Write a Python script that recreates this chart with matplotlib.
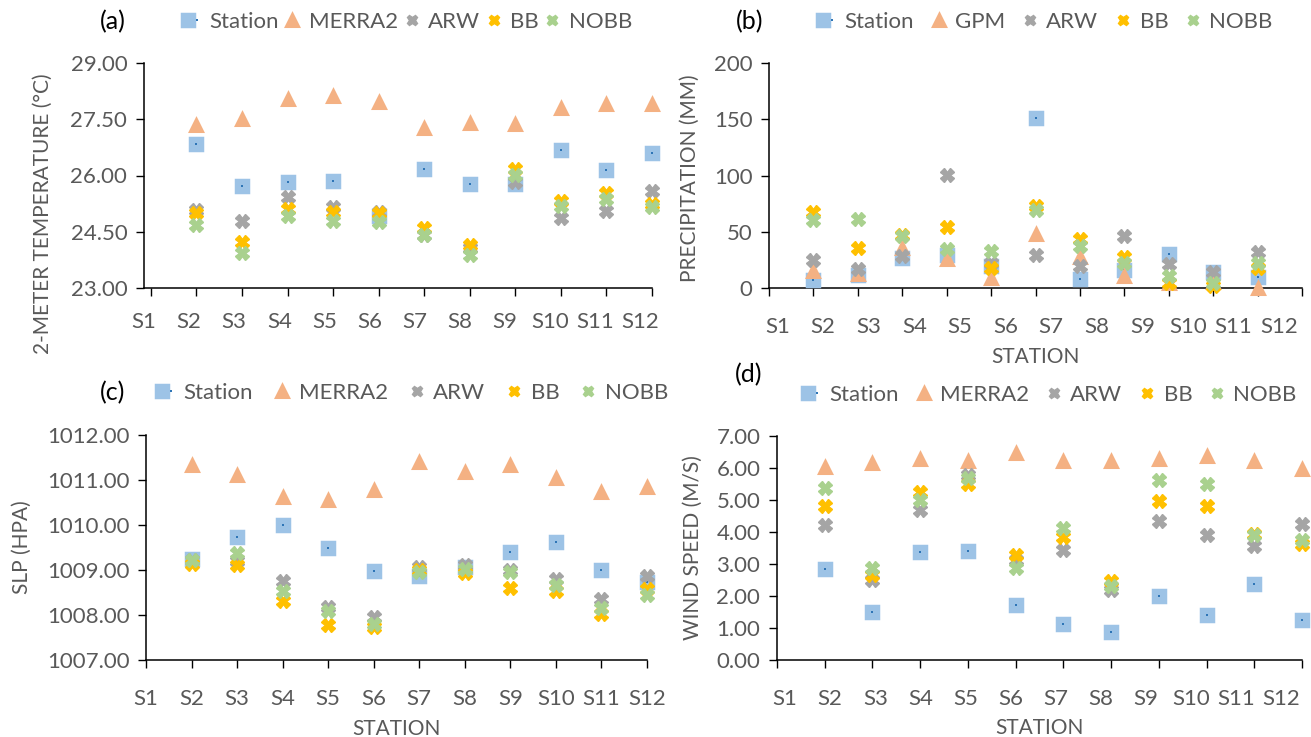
import matplotlib
matplotlib.use('Agg')
import matplotlib.pyplot as plt
from matplotlib.lines import Line2D
from matplotlib.legend_handler import HandlerTuple

plt.rcParams['font.family'] = ['Lato', 'DejaVu Sans']

stations = ['S1', 'S2', 'S3', 'S4', 'S5', 'S6', 'S7', 'S8', 'S9', 'S10', 'S11', 'S12']
pos = list(range(1, 12))  # points sit at S2..S12 ticks

# (a) 2-m temperature
t_station = [26.84, 25.73, 25.82, 25.86, 24.93, 26.17, 25.78, 25.77, 26.69, 26.14, 26.60]
t_merra = [27.36, 27.51, 28.04, 28.11, 27.95, 27.28, 27.40, 27.38, 27.80, 27.92, 27.92]
t_arw = [25.09, 24.80, 25.44, 25.16, 25.04, 24.42, 24.07, 25.84, 24.88, 25.06, 25.60]
t_bb = [25.00, 24.22, 25.11, 25.02, 25.00, 24.59, 24.14, 26.17, 25.33, 25.53, 25.25]
t_nobb = [24.67, 23.92, 24.93, 24.80, 24.75, 24.42, 23.89, 26.02, 25.18, 25.37, 25.16]

# (b) precipitation
p_station = [7.4, 11.9, 26.7, 29.6, 19.9, 151.1, 8.0, 15.7, 30.5, 13.9, 9.8]
p_gpm = [14.8, 12.7, 35.6, 26.1, 8.9, 48.3, 27.6, 11.0, 4.4, 5.0, 0.0]
p_arw = [25.2, 16.9, 28.1, 100.1, 22.2, 29.6, 19.3, 45.9, 21.3, 13.9, 31.7]
p_bb = [67.6, 35.9, 46.8, 54.2, 17.8, 73.2, 43.6, 27.6, 4.4, 1.5, 17.8]
p_nobb = [60.1, 61.6, 45.9, 34.7, 32.6, 69.6, 37.6, 22.2, 11.0, 4.4, 22.2]

# (c) sea level pressure
s_station = [1009.24, 1009.73, 1010.01, 1009.50, 1008.98, 1008.87, 1009.06, 1009.41, 1009.63, 1008.99, 1008.74]
s_merra = [1011.33, 1011.11, 1010.63, 1010.56, 1010.78, 1011.39, 1011.17, 1011.33, 1011.05, 1010.74, 1010.85]
s_arw = [1009.22, 1009.19, 1008.76, 1008.17, 1007.95, 1009.06, 1009.11, 1008.99, 1008.79, 1008.35, 1008.87]
s_bb = [1009.13, 1009.11, 1008.32, 1007.77, 1007.74, 1009.01, 1008.94, 1008.61, 1008.54, 1008.02, 1008.57]
s_nobb = [1009.22, 1009.37, 1008.53, 1008.10, 1007.81, 1008.96, 1009.02, 1008.96, 1008.67, 1008.15, 1008.44]

# (d) wind speed
w_station = [2.84, 1.51, 3.36, 3.41, 1.72, 1.12, 0.88, 2.00, 1.40, 2.39, 1.25]
w_merra = [6.03, 6.17, 6.27, 6.22, 6.47, 6.22, 6.22, 6.29, 6.38, 6.22, 5.96]
w_arw = [4.23, 2.50, 4.70, 5.77, 3.12, 3.43, 2.20, 4.34, 3.90, 3.56, 4.24]
w_bb = [4.82, 2.65, 5.25, 5.51, 3.28, 3.85, 2.48, 4.97, 4.82, 3.95, 3.64]
w_nobb = [5.36, 2.86, 4.99, 5.70, 2.89, 4.11, 2.31, 5.64, 5.49, 3.90, 3.74]

GREY_TXT = '#595959'
C_ST = '#9DC3E6'
C_DOT = '#2E75B6'
C_REF = '#F4B183'
C_ARW = '#A5A5A5'
C_BB = '#FFC000'
C_NOBB = '#A9D18E'

fig = plt.figure(figsize=(13.11, 7.37), dpi=100)


def panel(rect, ref_name, data, ylim, yticks, yfmt, ylabel, ylab_pos,
          xmax, lab_a, lab_b, xlabel, leg_x, leg_y, colsp, xpad=21):
    ax = fig.add_axes(rect)
    st, ref, arw, bb, nobb = data
    kw = dict(ls='none', clip_on=False)
    ax.plot(pos, st, marker='s', ms=8.5, mfc=C_ST, mec=C_ST, mew=2.5,
            solid_joinstyle='round', zorder=3, **kw)
    ax.plot(pos, st, marker='s', ms=2, mfc=C_DOT, mec=C_DOT, mew=0, zorder=3, **kw)
    ax.plot(pos, ref, marker='^', ms=9, mfc=C_REF, mec=C_REF, mew=2.2,
            solid_joinstyle='round', zorder=4, **kw)
    ax.plot(pos, arw, marker='X', ms=9.5, mfc=C_ARW, mec=C_ARW, mew=1, zorder=5, **kw)
    ax.plot(pos, bb, marker='X', ms=9.5, mfc=C_BB, mec=C_BB, mew=1, zorder=6, **kw)
    ax.plot(pos, nobb, marker='X', ms=9.5, mfc=C_NOBB, mec=C_NOBB, mew=1, zorder=7, **kw)

    ax.set_xlim(0, xmax)
    ax.set_ylim(*ylim)
    ax.set_yticks(yticks)
    ax.set_yticklabels([yfmt.format(v) for v in yticks])
    ax.xaxis.remove_overlapping_locs = False
    ax.set_xticks(range(xmax + 1))
    ax.set_xticklabels([])
    ax.set_xticks([lab_a + lab_b * i for i in range(12)], minor=True)
    ax.set_xticklabels(stations, minor=True)
    ax.tick_params(axis='x', which='major', length=6, width=1, direction='out', color='black')
    ax.tick_params(axis='x', which='minor', length=0, pad=xpad, labelsize=16, labelcolor=GREY_TXT)
    ax.tick_params(axis='y', length=6, width=1, direction='out', pad=6, labelsize=16,
                   labelcolor=GREY_TXT, color='black')
    for s in ('top', 'right'):
        ax.spines[s].set_visible(False)
    for s in ('left', 'bottom'):
        ax.spines[s].set_linewidth(1.1)
        ax.spines[s].set_color('black')

    ax.set_ylabel(ylabel, fontsize=15, color=GREY_TXT)
    ax.yaxis.set_label_coords(*ylab_pos)
    ax.yaxis.label.set_va('center')
    if xlabel:
        ax.set_xlabel('STATION', fontsize=15, color=GREY_TXT)
        ax.xaxis.set_label_coords(0.5, -0.305)
        ax.xaxis.label.set_va('center')

    h_st = (Line2D([], [], ls='none', marker='s', ms=8.5, mfc=C_ST, mec=C_ST, mew=2.5,
                   solid_joinstyle='round'),
            Line2D([], [], ls='none', marker='s', ms=2, mfc=C_DOT, mec=C_DOT, mew=0))
    h_ref = Line2D([], [], ls='none', marker='^', ms=9, mfc=C_REF, mec=C_REF, mew=2.2,
                   solid_joinstyle='round')
    h_arw = Line2D([], [], ls='none', marker='X', ms=7.5, mfc=C_ARW, mec=C_ARW, mew=1)
    h_bb = Line2D([], [], ls='none', marker='X', ms=7.5, mfc=C_BB, mec=C_BB, mew=1)
    h_nobb = Line2D([], [], ls='none', marker='X', ms=7.5, mfc=C_NOBB, mec=C_NOBB, mew=1)
    leg = fig.legend([h_st, h_ref, h_arw, h_bb, h_nobb],
                     ['Station', ref_name, 'ARW', 'BB', 'NOBB'],
                     handler_map={tuple: HandlerTuple(ndivide=None)},
                     loc='center left', bbox_to_anchor=(leg_x, leg_y),
                     bbox_transform=fig.transFigure, ncol=5, frameon=False,
                     fontsize=16, handlelength=0.8, handletextpad=0.35,
                     columnspacing=colsp, borderpad=0, borderaxespad=0)
    for t in leg.get_texts():
        t.set_color(GREY_TXT)
    return ax


W, H = 1311.0, 737.0


def rect(l, r, t, b):
    return [l / W, 1 - b / H, (r - l) / W, (b - t) / H]


panel(rect(144, 652, 63, 288), 'MERRA2',
      (t_station, t_merra, t_arw, t_bb, t_nobb),
      (23, 29), [23, 24.5, 26, 27.5, 29], '{:.2f}', '2-METER TEMPERATURE (°C)',
      (-0.199, 0.33), 11, -0.15, 0.99, False, 184 / W, 1 - 22 / H, 0.2, xpad=17)
fig.text(113 / W, 1 - 22 / H, '(a)', fontsize=18, ha='center', va='center')

panel(rect(769, 1302, 63, 288), 'GPM',
      (p_station, p_gpm, p_arw, p_bb, p_nobb),
      (0, 200), [0, 50, 100, 150, 200], '{:.0f}', 'PRECIPITATION (MM)',
      (-0.148, 0.49), 12, 0.19, 1.027, True, 819 / W, 1 - 22 / H, 0.7)
fig.text(750 / W, 1 - 22 / H, '(b)', fontsize=18, ha='center', va='center')

panel(rect(146, 647, 435, 660), 'MERRA2',
      (s_station, s_merra, s_arw, s_bb, s_nobb),
      (1007, 1012), [1007, 1008, 1009, 1010, 1011, 1012], '{:.2f}', 'SLP (HPA)',
      (-0.247, 0.5), 11, 0.0, 1.0, True, 158 / W, 1 - 393 / H, 0.9)
fig.text(113 / W, 1 - 393 / H, '(c)', fontsize=18, ha='center', va='center')

panel(rect(777, 1302, 436, 660), 'MERRA2',
      (w_station, w_merra, w_arw, w_bb, w_nobb),
      (0, 7), [0, 1, 2, 3, 4, 5, 6, 7], '{:.2f}', 'WIND SPEED (M/S)',
      (-0.16, 0.5), 11, 0.17, 0.945, True, 804 / W, 1 - 395 / H, 0.7)
fig.text(749 / W, 1 - 375 / H, '(d)', fontsize=18, ha='center', va='center')

fig.savefig('out.png', dpi=100, facecolor='white')
